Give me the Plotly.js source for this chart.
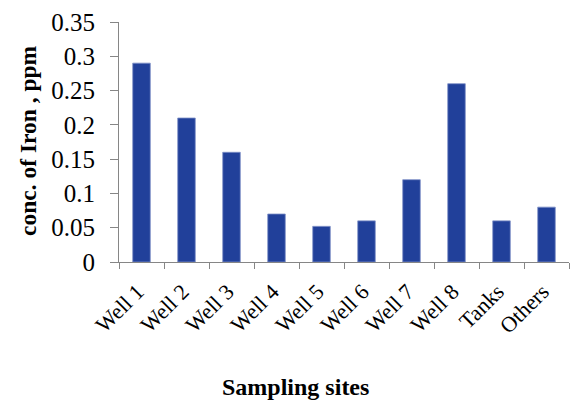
<!DOCTYPE html>
<html>
<head>
<meta charset="utf-8">
<script src="https://cdn.plot.ly/plotly-3.0.1.min.js"></script>
<style>html,body{margin:0;padding:0;background:#fff;}#chart{width:573px;height:400px;}</style>
</head>
<body>
<div id="chart"></div>
<script>
const categories = ["Well 1","Well 2","Well 3","Well 4","Well 5","Well 6","Well 7","Well 8","Tanks","Others"];
const ironValues = [0.29, 0.21, 0.16, 0.07, 0.052, 0.06, 0.12, 0.26, 0.06, 0.08];
const yTicks = [0, 0.05, 0.1, 0.15, 0.2, 0.25, 0.3, 0.35];
const yTickLabels = ["0","0.05","0.1","0.15","0.2","0.25","0.3","0.35"];
const xTitle = "Sampling sites";
const yTitle = "conc. of Iron , ppm";

const serif = "Liberation Serif, Times New Roman, serif";

const trace = {
  type: "bar",
  x: categories,
  y: ironValues,
  width: 0.39,
  marker: {color: "#21409a", line: {color: "#7d8fc6", width: 0.8}},
  hoverinfo: "none"
};

const layout = {
  width: 573, height: 400,
  margin: {l: 119, r: 4, t: 22, b: 138},
  paper_bgcolor: "#fff", plot_bgcolor: "#fff",
  showlegend: false,
  font: {family: serif, color: "#000"},
  xaxis: {
    type: "category",
    tickson: "boundaries",
    ticks: "outside", ticklen: 6, tickcolor: "#868686", tickwidth: 1,
    showline: true, linecolor: "#868686", linewidth: 1,
    showgrid: false, zeroline: false,
    tickangle: -45,
    ticklabelstandoff: 7,
    ticklabelshift: -4,
    tickfont: {family: serif, size: 22, color: "#000"}
  },
  yaxis: {
    range: [0, 0.35],
    tickvals: yTicks, ticktext: yTickLabels,
    ticks: "outside", ticklen: 8, tickcolor: "#868686", tickwidth: 1,
    showline: true, linecolor: "#868686", linewidth: 1,
    showgrid: false, zeroline: false,
    ticklabelstandoff: 10,
    tickfont: {family: serif, size: 25, color: "#000"}
  },
  annotations: [
    {text: "<b>" + xTitle + "</b>", xref: "paper", yref: "paper",
     x: (295.5 - 119) / 450, y: -(387 - 262) / 240, xanchor: "center", yanchor: "middle",
     showarrow: false, font: {family: serif, size: 24, color: "#000"}},
    {text: "<b>" + yTitle + "</b>", xref: "paper", yref: "paper",
     x: (28 - 119) / 450, y: (262 - 141) / 240, xanchor: "center", yanchor: "middle",
     textangle: -90,
     showarrow: false, font: {family: serif, size: 23.5, color: "#000"}}
  ]
};

Plotly.newPlot("chart", [trace], layout, {staticPlot: true, displayModeBar: false});
</script>
</body>
</html>
